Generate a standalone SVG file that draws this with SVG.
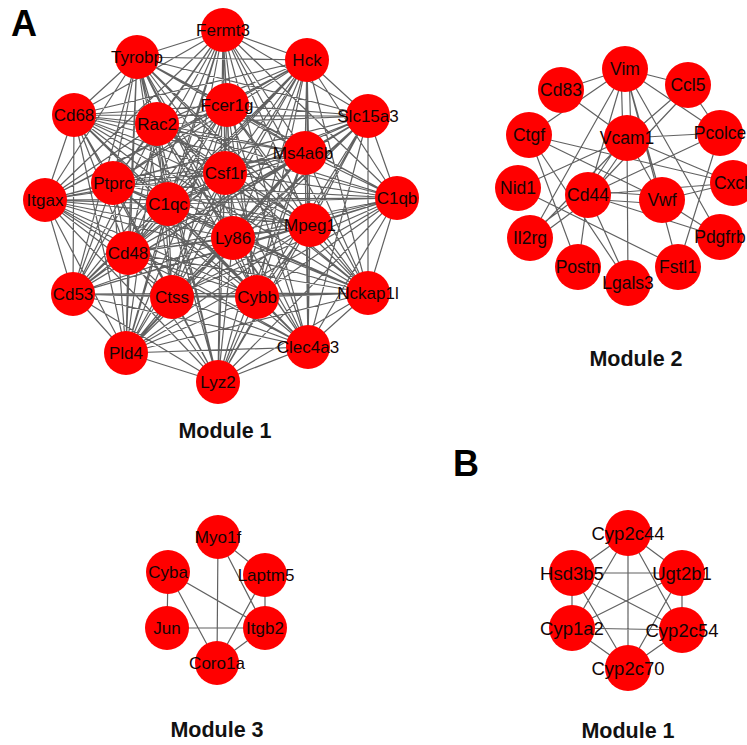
<svg xmlns="http://www.w3.org/2000/svg" width="747" height="745" viewBox="0 0 747 745">
<style>
.e{fill:none;stroke:#454545;stroke-width:1.2;stroke-linejoin:round;stroke-opacity:0.85}
.n circle{fill:#ff0000}
.n text{font-family:"Liberation Sans",Arial,sans-serif;fill:#140505;text-anchor:middle}
.m1 text{font-size:17px}
.m2 text{font-size:17.5px}
.m3 text{font-size:17px}
.mb text{font-size:18.5px}
.t{font-family:"Liberation Sans",Arial,sans-serif;font-weight:bold;fill:#111;text-anchor:middle;font-size:21.5px}
.p{font-family:"Liberation Sans",Arial,sans-serif;font-weight:bold;fill:#000;font-size:36px}
</style>
<rect width="747" height="745" fill="#fff"/>
<text class="p" x="11" y="36">A</text>
<text class="p" x="453" y="476">B</text>
<g id="connectors">
<path class="e" d="M223 30L137 57 223 30 307 60 223 30 74 115 223 30 157 124 223 30 227 105 223 30 368 116 223 30 305 153 223 30 113 183 223 30 225 173 223 30 45 200 223 30 168 204 223 30 397 198 223 30 310 225 223 30 233 238 223 30 128 253 223 30 73 294 223 30 172 297 223 30 257 297 223 30 368 293 223 30 126 353 223 30 308 347 223 30 218 382
M137 57L307 60 137 57 74 115 137 57 157 124 137 57 227 105 137 57 368 116 137 57 305 153 137 57 113 183 137 57 225 173 137 57 45 200 137 57 168 204 137 57 397 198 137 57 310 225 137 57 233 238 137 57 128 253 137 57 73 294 137 57 172 297 137 57 257 297 137 57 368 293 137 57 126 353 137 57 308 347 137 57 218 382
M307 60L74 115 307 60 157 124 307 60 227 105 307 60 368 116 307 60 305 153 307 60 113 183 307 60 225 173 307 60 45 200 307 60 168 204 307 60 397 198 307 60 310 225 307 60 233 238 307 60 128 253 307 60 73 294 307 60 172 297 307 60 257 297 307 60 368 293 307 60 126 353 307 60 308 347 307 60 218 382
M74 115L157 124 74 115 227 105 74 115 368 116 74 115 305 153 74 115 113 183 74 115 225 173 74 115 45 200 74 115 168 204 74 115 397 198 74 115 310 225 74 115 233 238 74 115 128 253 74 115 73 294 74 115 172 297 74 115 257 297 74 115 368 293 74 115 126 353 74 115 308 347 74 115 218 382
M157 124L227 105 157 124 368 116 157 124 305 153 157 124 113 183 157 124 225 173 157 124 45 200 157 124 168 204 157 124 397 198 157 124 310 225 157 124 233 238 157 124 128 253 157 124 73 294 157 124 172 297 157 124 257 297 157 124 368 293 157 124 126 353 157 124 308 347 157 124 218 382
M227 105L368 116 227 105 305 153 227 105 113 183 227 105 225 173 227 105 45 200 227 105 168 204 227 105 397 198 227 105 310 225 227 105 233 238 227 105 128 253 227 105 73 294 227 105 172 297 227 105 257 297 227 105 368 293 227 105 126 353 227 105 308 347 227 105 218 382
M368 116L305 153 368 116 113 183 368 116 225 173 368 116 45 200 368 116 168 204 368 116 397 198 368 116 310 225 368 116 233 238 368 116 128 253 368 116 73 294 368 116 172 297 368 116 257 297 368 116 368 293 368 116 126 353 368 116 308 347 368 116 218 382
M305 153L113 183 305 153 225 173 305 153 45 200 305 153 168 204 305 153 397 198 305 153 310 225 305 153 233 238 305 153 128 253 305 153 73 294 305 153 172 297 305 153 257 297 305 153 368 293 305 153 126 353 305 153 308 347 305 153 218 382
M113 183L225 173 113 183 45 200 113 183 168 204 113 183 397 198 113 183 310 225 113 183 233 238 113 183 128 253 113 183 73 294 113 183 172 297 113 183 257 297 113 183 368 293 113 183 126 353 113 183 308 347 113 183 218 382
M225 173L45 200 225 173 168 204 225 173 397 198 225 173 310 225 225 173 233 238 225 173 128 253 225 173 73 294 225 173 172 297 225 173 257 297 225 173 368 293 225 173 126 353 225 173 308 347 225 173 218 382
M45 200L168 204 45 200 397 198 45 200 310 225 45 200 233 238 45 200 128 253 45 200 73 294 45 200 172 297 45 200 257 297 45 200 368 293 45 200 126 353 45 200 308 347 45 200 218 382
M168 204L397 198 168 204 310 225 168 204 233 238 168 204 128 253 168 204 73 294 168 204 172 297 168 204 257 297 168 204 368 293 168 204 126 353 168 204 308 347 168 204 218 382
M397 198L310 225 397 198 233 238 397 198 128 253 397 198 73 294 397 198 172 297 397 198 257 297 397 198 368 293 397 198 126 353 397 198 308 347 397 198 218 382
M310 225L233 238 310 225 128 253 310 225 73 294 310 225 172 297 310 225 257 297 310 225 368 293 310 225 126 353 310 225 308 347 310 225 218 382
M233 238L128 253 233 238 73 294 233 238 172 297 233 238 257 297 233 238 368 293 233 238 126 353 233 238 308 347 233 238 218 382
M128 253L73 294 128 253 172 297 128 253 257 297 128 253 368 293 128 253 126 353 128 253 308 347 128 253 218 382
M73 294L172 297 73 294 257 297 73 294 368 293 73 294 126 353 73 294 308 347 73 294 218 382
M172 297L257 297 172 297 368 293 172 297 126 353 172 297 308 347 172 297 218 382
M257 297L368 293 257 297 126 353 257 297 308 347 257 297 218 382
M368 293L126 353 368 293 308 347 368 293 218 382
M126 353L308 347 126 353 218 382
M308 347L218 382"/>
<path class="e" d="M625 69L561 90M625 69L688 85M625 69L529 135M621 69L623 138M629 69L631 138M625 69L588 195M625 69L662 200M625 69L720 133M625 69L720 237M625 69L678 267M625 69L530 238M627 138L628 283M561 90L627 138M688 85L627 138M691 88L590 195M688 85L720 133M529 135L662 200M529 135L733 183M529 135L578 267M529 135L628 283M627 138L720 133M623 138L584 195M631 138L592 195M627 138L662 200M627 138L518 188M627 138L733 183M627 138L530 238M720 133L678 267M720 133L588 195M518 188L678 267M588 191L662 196M588 199L662 204M585 192L527 235M591 198L533 241M588 195L578 267M588 195L628 283M588 195L720 237M588 195L733 183M662 200L720 237M662 200L733 183"/>
<path class="e" d="M218 537L265 575M218 537L265 628M218 537L217 663M168 572L167 628M168 572L265 628M168 572L217 663M265 575L265 628M265 575L217 663M167 628L265 628M265 628L217 663"/>
<path class="e" d="M628 533L572 573M628 533L682 573M628 533L572 628M628 533L682 630M628 533L628 668M572 573L682 573M572 573L572 628M572 573L682 630M572 573L628 668M682 573L572 628M682 573L682 630M682 573L628 668M572 628L682 630M572 628L628 668M682 630L628 668"/>
</g>
<g class="n m1">
<g id="Fermt3"><circle cx="223" cy="30" r="22"/><text x="223" y="36">Fermt3</text></g>
<g id="Tyrobp"><circle cx="137" cy="57" r="22"/><text x="137" y="63">Tyrobp</text></g>
<g id="Hck"><circle cx="307" cy="60" r="22"/><text x="307" y="66">Hck</text></g>
<g id="Cd68"><circle cx="74" cy="115" r="22"/><text x="74" y="121">Cd68</text></g>
<g id="Rac2"><circle cx="157" cy="124" r="22"/><text x="157" y="130">Rac2</text></g>
<g id="Fcer1g"><circle cx="227" cy="105" r="22"/><text x="227" y="111">Fcer1g</text></g>
<g id="Slc15a3"><circle cx="368" cy="116" r="22"/><text x="368" y="122">Slc15a3</text></g>
<g id="Ms4a6b"><circle cx="305" cy="153" r="22"/><text x="303" y="159">Ms4a6b</text></g>
<g id="Ptprc"><circle cx="113" cy="183" r="22"/><text x="113" y="189">Ptprc</text></g>
<g id="Csf1r"><circle cx="225" cy="173" r="22"/><text x="225" y="179">Csf1r</text></g>
<g id="Itgax"><circle cx="45" cy="200" r="22"/><text x="45" y="206">Itgax</text></g>
<g id="C1qc"><circle cx="168" cy="204" r="22"/><text x="168" y="210">C1qc</text></g>
<g id="C1qb"><circle cx="397" cy="198" r="22"/><text x="397" y="204">C1qb</text></g>
<g id="Mpeg1"><circle cx="310" cy="225" r="22"/><text x="310" y="231">Mpeg1</text></g>
<g id="Ly86"><circle cx="233" cy="238" r="22"/><text x="233" y="244">Ly86</text></g>
<g id="Cd48"><circle cx="128" cy="253" r="22"/><text x="128" y="259">Cd48</text></g>
<g id="Cd53"><circle cx="73" cy="294" r="22"/><text x="73" y="300">Cd53</text></g>
<g id="Ctss"><circle cx="172" cy="297" r="22"/><text x="172" y="303">Ctss</text></g>
<g id="Cybb"><circle cx="257" cy="297" r="22"/><text x="257" y="303">Cybb</text></g>
<g id="Nckap1l"><circle cx="368" cy="293" r="22"/><text x="368" y="299">Nckap1l</text></g>
<g id="Pld4"><circle cx="126" cy="353" r="22"/><text x="126" y="359">Pld4</text></g>
<g id="Clec4a3"><circle cx="308" cy="347" r="22"/><text x="308" y="353">Clec4a3</text></g>
<g id="Lyz2"><circle cx="218" cy="382" r="22"/><text x="218" y="388">Lyz2</text></g>
</g>
<g class="n m2">
<g id="Vim"><circle cx="625" cy="69" r="23"/><text x="625" y="75">Vim</text></g>
<g id="Cd83"><circle cx="561" cy="90" r="23"/><text x="561" y="96">Cd83</text></g>
<g id="Ccl5"><circle cx="688" cy="85" r="23"/><text x="688" y="91">Ccl5</text></g>
<g id="Ctgf"><circle cx="529" cy="135" r="23"/><text x="529" y="141">Ctgf</text></g>
<g id="Vcam1"><circle cx="627" cy="138" r="23"/><text x="627" y="144">Vcam1</text></g>
<g id="Pcolce"><circle cx="720" cy="133" r="23"/><text x="720" y="139">Pcolce</text></g>
<g id="Nid1"><circle cx="518" cy="188" r="23"/><text x="518" y="194">Nid1</text></g>
<g id="Cd44"><circle cx="588" cy="195" r="23"/><text x="588" y="201">Cd44</text></g>
<g id="Vwf"><circle cx="662" cy="200" r="23"/><text x="662" y="206">Vwf</text></g>
<g id="Cxcl"><circle cx="733" cy="183" r="23"/><text x="731" y="189">Cxcl</text></g>
<g id="Il2rg"><circle cx="530" cy="238" r="23"/><text x="530" y="244">Il2rg</text></g>
<g id="Pdgfrb"><circle cx="720" cy="237" r="23"/><text x="720" y="243">Pdgfrb</text></g>
<g id="Postn"><circle cx="578" cy="267" r="23"/><text x="578" y="273">Postn</text></g>
<g id="Fstl1"><circle cx="678" cy="267" r="23"/><text x="678" y="273">Fstl1</text></g>
<g id="Lgals3"><circle cx="628" cy="283" r="23"/><text x="628" y="289">Lgals3</text></g>
</g>
<g class="n m3">
<g id="Myo1f"><circle cx="218" cy="537" r="22"/><text x="218" y="543">Myo1f</text></g>
<g id="Cyba"><circle cx="168" cy="572" r="22"/><text x="168" y="578">Cyba</text></g>
<g id="Laptm5"><circle cx="265" cy="575" r="22"/><text x="266" y="581">Laptm5</text></g>
<g id="Jun"><circle cx="167" cy="628" r="22"/><text x="167" y="634">Jun</text></g>
<g id="Itgb2"><circle cx="265" cy="628" r="22"/><text x="265" y="634">Itgb2</text></g>
<g id="Coro1a"><circle cx="217" cy="663" r="22"/><text x="217" y="669">Coro1a</text></g>
</g>
<g class="n mb">
<g id="Cyp2c44"><circle cx="628" cy="533" r="23"/><text x="628" y="540">Cyp2c44</text></g>
<g id="Hsd3b5"><circle cx="572" cy="573" r="23"/><text x="572" y="580">Hsd3b5</text></g>
<g id="Ugt2b1"><circle cx="682" cy="573" r="23"/><text x="682" y="580">Ugt2b1</text></g>
<g id="Cyp1a2"><circle cx="572" cy="628" r="23"/><text x="572" y="635">Cyp1a2</text></g>
<g id="Cyp2c54"><circle cx="682" cy="630" r="23"/><text x="682" y="637">Cyp2c54</text></g>
<g id="Cyp2c70"><circle cx="628" cy="668" r="23"/><text x="628" y="675">Cyp2c70</text></g>
</g>
<text class="t" x="225" y="438">Module 1</text>
<text class="t" x="636" y="366">Module 2</text>
<text class="t" x="217" y="737">Module 3</text>
<text class="t" x="628" y="738">Module 1</text>
</svg>
